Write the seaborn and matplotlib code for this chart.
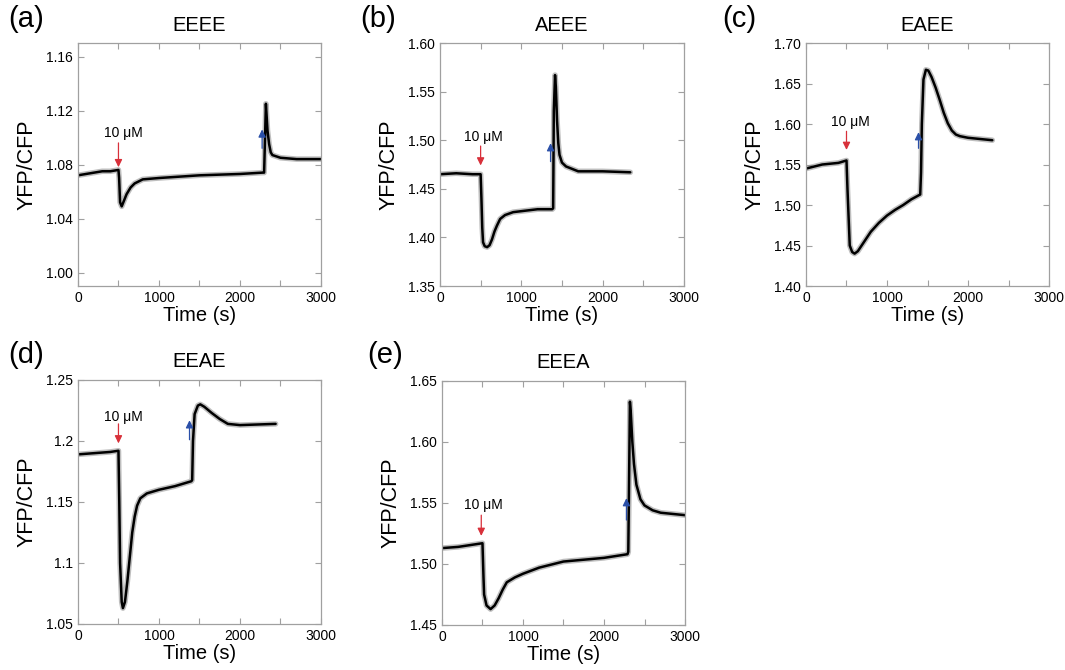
import numpy as np
import pandas as pd
import seaborn as sns
import matplotlib.pyplot as plt
from matplotlib.ticker import MultipleLocator

sns.set_style('ticks')
plt.rcParams['font.family'] = ['Liberation Sans', 'DejaVu Sans']
plt.rcParams['text.color'] = 'black'
plt.rcParams['axes.labelcolor'] = 'black'
plt.rcParams['xtick.labelcolor'] = 'black'
plt.rcParams['ytick.labelcolor'] = 'black'

# ---- data (time in s, YFP/CFP ratio) ----
t_a = [0, 100, 200, 300, 400, 500, 508, 520, 540, 560, 600, 650, 700, 800, 1000, 1500, 2000, 2280, 2298,
       2320, 2330, 2340, 2360, 2380, 2400, 2500, 2700, 3000]
r_a = [1.072, 1.073, 1.074, 1.075, 1.075, 1.076, 1.070, 1.052, 1.049, 1.052, 1.058, 1.063, 1.066, 1.069, 1.070,
       1.072, 1.073, 1.074, 1.074, 1.125, 1.115, 1.105, 1.095, 1.089, 1.087, 1.085, 1.084, 1.084]

t_b = [0, 200, 400, 500, 510, 520, 530, 550, 580, 610, 640, 670, 700, 740, 800, 900, 1000, 1200, 1380, 1392,
       1400, 1415, 1425, 1440, 1455, 1470, 1500, 1550, 1700, 2000, 2340]
r_b = [1.465, 1.466, 1.465, 1.465, 1.440, 1.410, 1.395, 1.391, 1.390, 1.392, 1.398, 1.406, 1.412, 1.419, 1.423,
       1.426, 1.427, 1.429, 1.429, 1.430, 1.530, 1.567, 1.555, 1.520, 1.497, 1.485, 1.477, 1.473, 1.468, 1.468, 1.467]

t_c = [0, 200, 400, 500, 512, 540, 570, 600, 640, 700, 800, 900, 1000, 1100, 1200, 1300, 1410, 1420, 1430,
       1450, 1480, 1510, 1550, 1600, 1650, 1700, 1750, 1800, 1850, 1900, 2000, 2300]
r_c = [1.545, 1.550, 1.552, 1.555, 1.520, 1.450, 1.442, 1.440, 1.443, 1.452, 1.467, 1.478, 1.487, 1.494, 1.500,
       1.507, 1.513, 1.540, 1.600, 1.655, 1.667, 1.666, 1.658, 1.645, 1.630, 1.614, 1.601, 1.592, 1.587, 1.585,
       1.583, 1.580]

t_d = [0, 200, 400, 500, 510, 520, 540, 555, 580, 610, 640, 670, 700, 730, 770, 850, 1000, 1200, 1400, 1410,
       1420, 1440, 1480, 1510, 1560, 1650, 1750, 1850, 2000, 2440]
r_d = [1.189, 1.190, 1.191, 1.192, 1.150, 1.100, 1.068, 1.063, 1.068, 1.085, 1.105, 1.125, 1.138, 1.147, 1.153,
       1.157, 1.160, 1.163, 1.167, 1.168, 1.200, 1.222, 1.229, 1.230, 1.228, 1.223, 1.218, 1.214, 1.213, 1.214]

t_e = [0, 200, 400, 500, 512, 520, 550, 600, 650, 700, 750, 800, 900, 1000, 1200, 1500, 2000, 2290, 2300,
       2320, 2330, 2350, 2370, 2400, 2450, 2500, 2600, 2700, 3000]
r_e = [1.513, 1.514, 1.516, 1.517, 1.490, 1.475, 1.466, 1.463, 1.466, 1.472, 1.479, 1.485, 1.489, 1.492, 1.497,
       1.502, 1.505, 1.508, 1.510, 1.633, 1.625, 1.600, 1.582, 1.565, 1.553, 1.548, 1.544, 1.542, 1.540]

titles = ['EEEE', 'AEEE', 'EAEE', 'EEAE', 'EEEA']
letters = ['(a)', '(b)', '(c)', '(d)', '(e)']
ylims = [(0.99, 1.17), (1.35, 1.60), (1.40, 1.70), (1.05, 1.25), (1.45, 1.65)]
yticks = [[1.00, 1.04, 1.08, 1.12, 1.16],
          [1.35, 1.40, 1.45, 1.50, 1.55, 1.60],
          [1.40, 1.45, 1.50, 1.55, 1.60, 1.65, 1.70],
          [1.05, 1.10, 1.15, 1.20, 1.25],
          [1.45, 1.50, 1.55, 1.60, 1.65]]
yfmt = ['{:.2f}', '{:.2f}', '{:.2f}', '{:g}', '{:.2f}']
# drug addition (red) and wash-out (blue) arrows: time, tail, tip
red_arrows = [(500, 1.096, 1.078), (500, 1.494, 1.474), (500, 1.591, 1.568), (500, 1.214, 1.198), (485, 1.540, 1.523)]
blue_arrows = [(2273, 1.092, 1.106), (1360, 1.478, 1.497), (1389, 1.570, 1.590), (1377, 1.201, 1.217), (2277, 1.536, 1.554)]
label_pos = [(555, 1.103), (533, 1.503), (551, 1.603), (563, 1.220), (514, 1.548)]

traces = [(t_a, r_a), (t_b, r_b), (t_c, r_c), (t_d, r_d), (t_e, r_e)]

# axes boxes in figure fraction [left, bottom, width, height]
boxes = [[0.0732, 0.5731, 0.2282, 0.3627],
         [0.4131, 0.5731, 0.2291, 0.3627],
         [0.7568, 0.5731, 0.2282, 0.3627],
         [0.0732, 0.0687, 0.2282, 0.3642],
         [0.4150, 0.0672, 0.2282, 0.3642]]
letter_pos = [(0.008, 0.972), (0.338, 0.972), (0.678, 0.972), (0.008, 0.470), (0.345, 0.470)]

fig = plt.figure(figsize=(10.65, 6.70), dpi=100)
frame = '#a0a0a0'

for i in range(5):
    ax = fig.add_axes(boxes[i])
    df = pd.DataFrame({'Time': traces[i][0], 'Ratio': traces[i][1]})
    sns.lineplot(data=df, x='Time', y='Ratio', ax=ax, color='#8a8a8a', lw=4.0, alpha=0.55)
    sns.lineplot(data=df, x='Time', y='Ratio', ax=ax, color='black', lw=1.8)

    ax.set_xlim(0, 3000)
    ax.set_ylim(*ylims[i])
    ax.xaxis.set_major_locator(MultipleLocator(1000))
    ax.xaxis.set_minor_locator(MultipleLocator(500))
    ax.set_yticks(yticks[i])
    ax.set_yticklabels([yfmt[i].format(v) for v in yticks[i]])
    ax.tick_params(which='both', direction='in', top=True, right=True, color=frame,
                   labelsize=10, width=0.8, length=4)
    for s in ax.spines.values():
        s.set_color(frame)
        s.set_linewidth(0.9)

    ax.set_xlabel('Time (s)', fontsize=14.5, labelpad=1)
    ax.set_ylabel('YFP/CFP', fontsize=15.5, labelpad=6)
    ax.set_title(titles[i], fontsize=14.5, pad=9)

    tx, y0, y1 = red_arrows[i]
    ax.annotate('', xy=(tx, y1), xytext=(tx, y0),
                arrowprops=dict(arrowstyle='-|>,head_length=0.45,head_width=0.22',
                                color='#d8303a', lw=0.9, shrinkA=0, shrinkB=0))
    tx, y0, y1 = blue_arrows[i]
    ax.annotate('', xy=(tx, y1), xytext=(tx, y0),
                arrowprops=dict(arrowstyle='-|>,head_length=0.45,head_width=0.22',
                                color='#2a4fa8', lw=0.9, shrinkA=0, shrinkB=0))
    lx, ly = label_pos[i]
    ax.text(lx, ly, '10 μM', fontsize=10, ha='center', va='center')

    fig.text(letter_pos[i][0], letter_pos[i][1], letters[i], fontsize=21, va='center', ha='left')

fig.savefig('out.png', dpi=100)
